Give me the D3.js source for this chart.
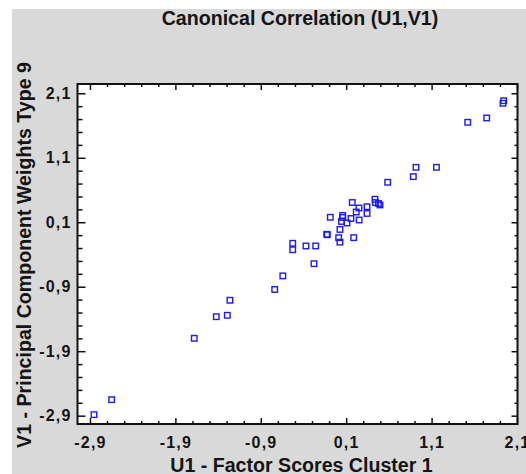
<!DOCTYPE html>
<html>
<head>
<meta charset="utf-8">
<script src="https://cdn.jsdelivr.net/npm/d3@7"></script>
<style>
  html, body { margin: 0; padding: 0; background: #fff; }
  svg { display: block; }
  text { font-family: "Liberation Sans", Arial, sans-serif; font-weight: bold; fill: #141414; }
</style>
</head>
<body>
<svg id="chart"></svg>
<script>
const width = 526;
const height = 474;

// values
const u1 = [1.944, 1.936, 1.523, 1.745, 0.917, 1.157, 0.886, 0.586, 0.171, 0.437,
            0.443, 0.478, 0.496, 0.344, 0.250, 0.218, 0.344, 0.059, 0.059, -0.086,
            0.156, 0.045, 0.109, 0.252, 0.027, -0.121, -0.128, 0.012, 0.027, 0.188,
            -0.526, -0.526, -0.371, -0.257, -0.277, -0.642, -0.737, -1.261, -1.421, -1.292,
            -1.679, -2.646, -2.853];
const v1 = [1.985, 1.945, 1.650, 1.717, 0.952, 0.952, 0.807, 0.720, 0.406, 0.456,
            0.406, 0.391, 0.368, 0.341, 0.321, 0.259, 0.236, 0.205, 0.174, 0.177,
            0.158, 0.112, 0.089, 0.135, -0.012, -0.094, -0.087, -0.139, -0.209, -0.139,
            -0.226, -0.327, -0.268, -0.268, -0.543, -0.732, -0.943, -1.110, -1.365, -1.343,
            -1.700, -2.652, -2.884];
const tickValues = [-2.9, -1.9, -0.9, 0.1, 1.1, 2.1];
const minorValues = d3.range(-2.9, 2.1, 0.2).map(d => +d.toFixed(1)).filter(d => !tickValues.includes(d));

const title = "Canonical Correlation (U1,V1)";
const xTitle = "U1 - Factor Scores Cluster 1";
const yTitle = "V1 - Principal Component Weights Type 9";

const plot = { left: 77.5, right: 517.5, top: 84, bottom: 424 };

const svg = d3.select("#chart")
  .attr("width", width)
  .attr("height", height);

// grey panel
svg.append("rect")
  .attr("x", 12).attr("y", 9)
  .attr("width", width - 12).attr("height", height - 9)
  .attr("fill", "#d9d9d9");

svg.append("rect")
  .attr("x", plot.left).attr("y", plot.top)
  .attr("width", plot.right - plot.left).attr("height", plot.bottom - plot.top)
  .attr("fill", "#fff");

const x = d3.scaleLinear().domain([-3.046, 2.106]).range([plot.left, plot.right]);
const y = d3.scaleLinear().domain([-3.029, 2.244]).range([plot.bottom, plot.top]);

// comma decimals, plain hyphen for minus
const fmt = d => d3.format(".1f")(d).replace("\u2212", "-").replace(".", ",");

// bottom axis (ticks inward)
const xAxis = svg.append("g").attr("transform", "translate(0," + plot.bottom + ")");
xAxis.call(d3.axisBottom(x).tickValues(tickValues).tickSizeInner(-6).tickSizeOuter(0).tickPadding(13).tickFormat(fmt));
xAxis.append("g").call(d3.axisBottom(x).tickValues(minorValues).tickSizeInner(-3).tickSizeOuter(0).tickFormat(""));

// top axis
const xTop = svg.append("g").attr("transform", "translate(0," + plot.top + ")");
xTop.call(d3.axisTop(x).tickValues(tickValues).tickSizeInner(-6).tickSizeOuter(0).tickFormat(""));
xTop.append("g").call(d3.axisTop(x).tickValues(minorValues).tickSizeInner(-3).tickSizeOuter(0).tickFormat(""));

// left axis
const yAxis = svg.append("g").attr("transform", "translate(" + plot.left + ",0)");
yAxis.call(d3.axisLeft(y).tickValues(tickValues).tickSizeInner(-8).tickSizeOuter(0).tickPadding(6).tickFormat(fmt));
yAxis.append("g").call(d3.axisLeft(y).tickValues(minorValues).tickSizeInner(-5).tickSizeOuter(0).tickFormat(""));

// right axis
const yRight = svg.append("g").attr("transform", "translate(" + plot.right + ",0)");
yRight.call(d3.axisRight(y).tickValues(tickValues).tickSizeInner(-6).tickSizeOuter(0).tickFormat(""));
yRight.append("g").call(d3.axisRight(y).tickValues(minorValues).tickSizeInner(-3).tickSizeOuter(0).tickFormat(""));

svg.selectAll(".domain").remove();
svg.selectAll(".tick line").attr("stroke", "#111").attr("stroke-width", 1.5);
svg.selectAll(".tick text")
  .style("font-size", "16px")
  .style("letter-spacing", "1.2px")
  .attr("fill", "#141414");

// frame
svg.append("rect")
  .attr("x", plot.left).attr("y", plot.top)
  .attr("width", plot.right - plot.left).attr("height", plot.bottom - plot.top)
  .attr("fill", "none")
  .attr("stroke", "#111")
  .attr("stroke-width", 2);

// points
const pts = u1.map((d, i) => ({ u: d, v: v1[i] }));
svg.append("g")
  .selectAll("rect")
  .data(pts)
  .enter()
  .append("rect")
  .attr("x", d => x(d.u) - 2.75)
  .attr("y", d => y(d.v) - 2.75)
  .attr("width", 5.5)
  .attr("height", 5.5)
  .attr("fill", "none")
  .attr("stroke", "#1a1aff")
  .attr("stroke-width", 1.4);

// titles
svg.append("text")
  .attr("x", 300).attr("y", 25)
  .attr("text-anchor", "middle")
  .style("font-size", "19.6px")
  .text(title);

svg.append("text")
  .attr("x", 301.5).attr("y", 471.5)
  .attr("text-anchor", "middle")
  .style("font-size", "19.6px")
  .text(xTitle);

svg.append("text")
  .attr("transform", "translate(31,255) rotate(-90)")
  .attr("text-anchor", "middle")
  .style("font-size", "19.6px")
  .text(yTitle);
</script>
</body>
</html>
